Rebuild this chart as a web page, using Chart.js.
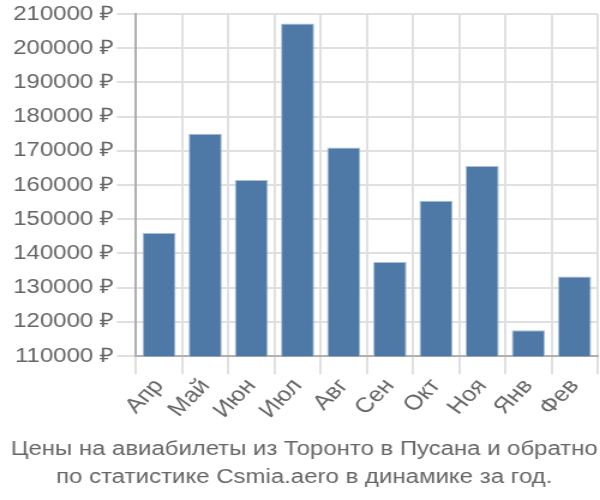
<!DOCTYPE html>
<html>
<head>
<meta charset="utf-8">
<script src="https://cdn.jsdelivr.net/npm/chart.js@4"></script>
<style>
  body { margin: 0; background: #fff; overflow: hidden; }
  /* chart is laid out 500 wide and stretched to 600, like the reference */
  #wrap { width: 500px; height: 500px; transform: scaleX(1.2); transform-origin: 0 0; }
</style>
</head>
<body>
<div id="wrap"><canvas id="price_chart"></canvas></div>
<script>
const months = ['Апр', 'Май', 'Июн', 'Июл', 'Авг', 'Сен', 'Окт', 'Ноя', 'Янв', 'Фев'];
const prices = [146000, 175000, 161500, 207200, 171000, 137500, 155400, 165600, 117600, 133300];
const titleLines = [
    'Цены на авиабилеты из Торонто в Пусана и обратно',
    'по статистике Csmia.aero в динамике за год.'
];

Chart.defaults.font.family = '"Liberation Sans", Arial, sans-serif';

new Chart(
    document.getElementById('price_chart'),
    {
      type: 'bar',
      data: {
        labels: months,
        datasets: [
          {
            label: 'Цена',
            data: prices,
            backgroundColor: '#4e79a7',
            borderColor: '#a9bfd6',
            borderWidth: { left: 1, right: 1, top: 1, bottom: 0 }
          }
        ]
      },
      options: {
        responsive: true,
        maintainAspectRatio: false,
        animation: false,
        layout: { padding: { left: 9, right: 2, top: 4, bottom: 2 } },
        plugins: {
          legend: { display: false },
          tooltip: { enabled: false },
          title: {
            display: true,
            position: 'bottom',
            text: titleLines,
            color: '#666',
            font: { size: 20, weight: 'normal', lineHeight: 1.4 },
            padding: { top: 12, bottom: 7 }
          }
        },
        scales: {
          x: {
            grid: { color: '#e0e0e0', lineWidth: 2, offset: true, tickLength: 18 },
            border: { color: '#b0b0b0', width: 2 },
            ticks: {
              color: '#666',
              font: { size: 21 },
              autoSkip: false,
              maxRotation: 50,
              minRotation: 50,
              padding: 0
            }
          },
          y: {
            min: 110000,
            max: 210000,
            grid: { color: '#e0e0e0', lineWidth: 2, tickLength: 16 },
            border: { color: '#b0b0b0', width: 2 },
            ticks: {
              stepSize: 10000,
              color: '#666',
              font: { size: 20 },
              padding: 2,
              callback: v => v + ' ₽'
            }
          }
        }
      }
    }
);
</script>
</body>
</html>
